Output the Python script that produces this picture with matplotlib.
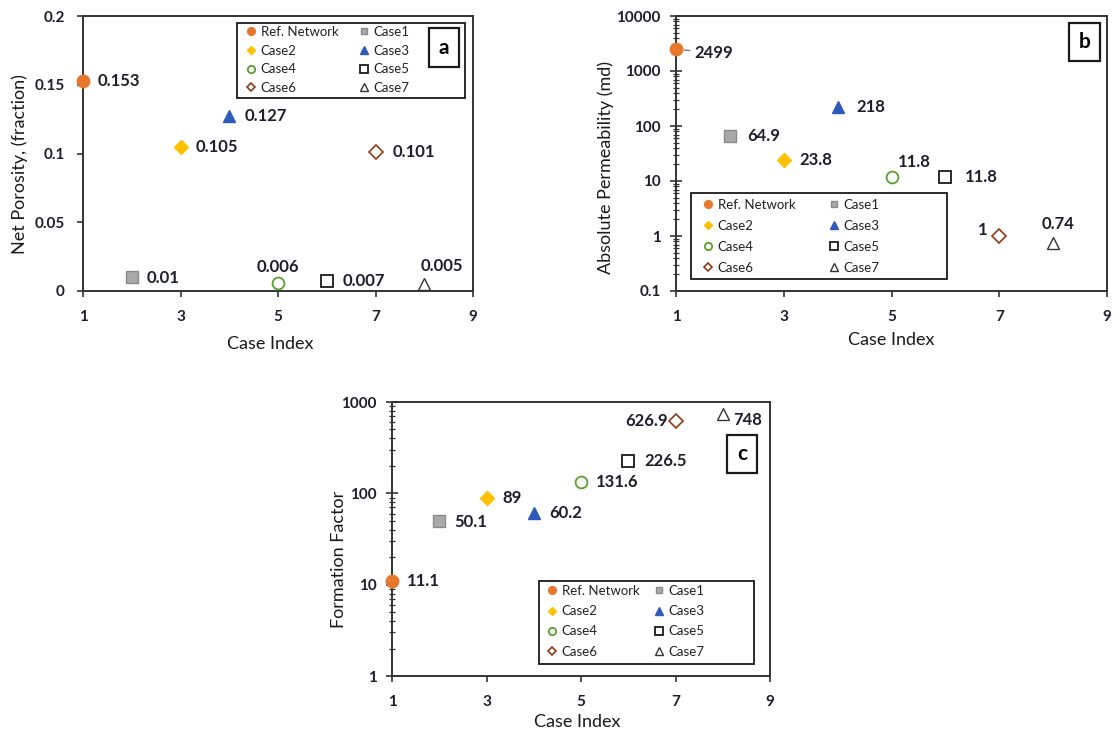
import matplotlib
matplotlib.use("Agg")
import matplotlib.pyplot as plt
from matplotlib.lines import Line2D
from matplotlib.patches import Rectangle
from matplotlib.ticker import FixedLocator, LogLocator, NullFormatter

# ---------------- data ----------------
cases = ['Ref. Network', 'Case1', 'Case2', 'Case3', 'Case4', 'Case5', 'Case6', 'Case7']
case_index = [1, 2, 3, 4, 5, 6, 7, 8]
porosity = [0.153, 0.01, 0.105, 0.127, 0.006, 0.007, 0.101, 0.005]
permeability = [2499, 64.9, 23.8, 218, 11.8, 11.8, 1, 0.74]
formation_factor = [11.1, 50.1, 89, 60.2, 131.6, 226.5, 626.9, 748]
x_ticks = [1, 3, 5, 7, 9]
por_ticks = [0, 0.05, 0.1, 0.15, 0.2]
por_ticklabels = ['0', '0.05', '0.1', '0.15', '0.2']
perm_ticks = [0.1, 1, 10, 100, 1000, 10000]
perm_ticklabels = ['0.1', '1', '10', '100', '1000', '10000']
ff_ticks = [1, 10, 100, 1000]
ff_ticklabels = ['1', '10', '100', '1000']

# ---------------- styles ----------------
W, H = 1114, 734
FONT = 'Lato'
plt.rcParams['font.family'] = [FONT, 'DejaVu Sans']
TXT = '#1e1e2c'

styles = [
    dict(marker='o', ms=9, mfc='#E8772E', mec='#E8772E', mew=1),
    dict(marker='s', ms=8, mfc='#A9A9A9', mec='#8a8a8a', mew=1),
    dict(marker='D', ms=7, mfc='#FFC000', mec='#FFC000', mew=1),
    dict(marker='^', ms=9, mfc='#2E5BBA', mec='#2E5BBA', mew=1),
    dict(marker='o', ms=8.5, mfc='none', mec='#5AA02C', mew=1.3),
    dict(marker='s', ms=8.5, mfc='none', mec='#1a1a1a', mew=1.3),
    dict(marker='D', ms=7, mfc='none', mec='#8B3A1A', mew=1.2),
    dict(marker='^', ms=8.5, mfc='none', mec='#333333', mew=1.0),
]
leg_scale = 0.62

fig = plt.figure(figsize=(W / 100, H / 100), dpi=100)


def add_axes_px(x0, y0, x1, y1):
    return fig.add_axes([x0 / W, 1 - y1 / H, (x1 - x0) / W, (y1 - y0) / H])


def rect_px(x0, y0, x1, y1, lw=1.3, z=5):
    r = Rectangle((x0 / W, 1 - y1 / H), (x1 - x0) / W, (y1 - y0) / H,
                  transform=fig.transFigure, fill=True, facecolor='white',
                  edgecolor='#1a1a1a', lw=lw, zorder=z)
    fig.add_artist(r)
    return r


def panel_label(txt, x0, y0, x1, y1):
    rect_px(x0, y0, x1, y1, lw=1.6, z=9)
    fig.text((x0 + x1) / 2 / W, 1 - (y0 + y1) / 2 / H, txt, ha='center',
             va='center', fontsize=15, fontweight='bold', color='black',
             zorder=10)


def legend_px(frame, col_x, top_y, rowgap):
    rect_px(*frame, lw=1.3, z=3)
    cols = [[0, 2, 4, 6], [1, 3, 5, 7]]
    for ci, idx in enumerate(cols):
        handles = []
        for i in idx:
            s = dict(styles[i])
            s['ms'] = s['ms'] * leg_scale
            handles.append(Line2D([], [], ls='none', **s))
        fx = col_x[ci] / W
        fy = 1 - top_y / H
        leg = fig.legend(handles, [cases[i] for i in idx], loc='upper left',
                         bbox_to_anchor=(fx, fy), bbox_transform=fig.transFigure,
                         frameon=False, fontsize=9.5, handlelength=0.8,
                         handletextpad=0.3, borderpad=0, borderaxespad=0,
                         labelspacing=rowgap, labelcolor='#222222')
        leg.set_zorder(4)


def style_axes(ax, ylabel, ylab_xy, xlab_xy, logy, ypad):
    for sp in ax.spines.values():
        sp.set_color('#333333')
        sp.set_linewidth(1.4)
    ax.set_xlim(1, 9)
    ax.xaxis.set_major_locator(FixedLocator(x_ticks))
    ax.set_xticklabels([str(t) for t in x_ticks])
    ax.tick_params(axis='x', direction='out', length=4, width=1.2,
                   color='#333333', pad=10, labelsize=11, labelcolor=TXT)
    for lab in ax.get_xticklabels():
        lab.set_fontweight('bold')
    if logy:
        ax.tick_params(axis='y', which='major', direction='inout', length=8,
                       width=1.2, color='#333333', pad=ypad, labelsize=11,
                       labelcolor=TXT)
        ax.tick_params(axis='y', which='minor', direction='inout', length=5,
                       width=0.9, color='#333333')
    else:
        ax.tick_params(axis='y', direction='out', length=4, width=1.2,
                       color='#333333', pad=ypad, labelsize=11, labelcolor=TXT)
    for lab in ax.get_yticklabels():
        lab.set_fontweight('bold')
    ax.set_xlabel('Case Index', fontsize=13, color='#1a1a1a')
    ax.set_ylabel(ylabel, fontsize=13, color='#1a1a1a')
    ax.xaxis.set_label_coords(*xlab_xy)
    ax.yaxis.set_label_coords(*ylab_xy)


def draw_points(ax, values, offsets, aligns, leader=None):
    for i, (x, v) in enumerate(zip(case_index, values)):
        ax.plot([x], [v], ls='none', clip_on=False, zorder=7, **styles[i])
        kw = dict(xy=(x, v), xytext=offsets[i], textcoords='offset pixels',
                  ha=aligns[i], va='center', fontsize=12, fontweight='bold',
                  color=TXT, zorder=8)
        if leader is not None and i == leader:
            kw['arrowprops'] = dict(arrowstyle='-', color='#777777', lw=1.0,
                                    shrinkA=1, shrinkB=6)
        ax.annotate(f"{v:g}", **kw)


# ---------------- panel a ----------------
ax_a = add_axes_px(83, 16, 473, 291)
ax_a.set_ylim(0, 0.2)
ax_a.yaxis.set_major_locator(FixedLocator(por_ticks))
ax_a.set_yticklabels(por_ticklabels)
style_axes(ax_a, 'Net Porosity, (fraction)', (-0.141, 0.46), (0.48, -0.165),
           False, 9)
off_a = [(15, 0), (15, -1), (15, 0), (15, 0), (0, 16), (16, 0), (17, 0), (18, 18)]
al_a = ['left', 'left', 'left', 'left', 'center', 'left', 'left', 'center']
draw_points(ax_a, porosity, off_a, al_a)
legend_px((237, 23, 465, 98), (246, 359), 26, 0.5)
panel_label('a', 429, 28, 459, 67)

# ---------------- panel b ----------------
ax_b = add_axes_px(676, 16, 1107, 291)
ax_b.set_yscale('log')
ax_b.set_ylim(0.1, 10000)
ax_b.yaxis.set_major_locator(FixedLocator(perm_ticks))
ax_b.yaxis.set_minor_locator(LogLocator(base=10, subs=range(2, 10)))
ax_b.yaxis.set_minor_formatter(NullFormatter())
ax_b.set_yticklabels(perm_ticklabels)
style_axes(ax_b, 'Absolute Permeability (md)', (-0.144, 0.45), (0.50, -0.15),
           True, 7)
off_b = [(18, -4), (17, 0), (16, 0), (19, 0), (23, 15), (19, 0), (-17, 6), (5, 19)]
al_b = ['left', 'left', 'left', 'left', 'center', 'left', 'center', 'center']
draw_points(ax_b, permeability, off_b, al_b, leader=0)
legend_px((691, 193, 947, 279), (703, 829), 199, 0.68)
panel_label('b', 1069, 23, 1100, 61)

# ---------------- panel c ----------------
ax_c = add_axes_px(392, 402, 770, 676)
ax_c.set_yscale('log')
ax_c.set_ylim(1, 1000)
ax_c.yaxis.set_major_locator(FixedLocator(ff_ticks))
ax_c.yaxis.set_minor_locator(LogLocator(base=10, subs=range(2, 10)))
ax_c.yaxis.set_minor_formatter(NullFormatter())
ax_c.set_yticklabels(ff_ticklabels)
style_axes(ax_c, 'Formation Factor', (-0.12, 0.427), (0.49, -0.14), True, 7)
off_c = [(15, 0), (15, -1), (16, 0), (15, 0), (15, 0), (16, 0), (-8, 0), (10, -6)]
al_c = ['left', 'left', 'left', 'left', 'left', 'left', 'right', 'left']
draw_points(ax_c, formation_factor, off_c, al_c)
legend_px((539, 581, 754, 664), (547, 654), 585, 0.62)
panel_label('c', 727, 435, 757, 473)

fig.savefig('out.png', dpi=100)
